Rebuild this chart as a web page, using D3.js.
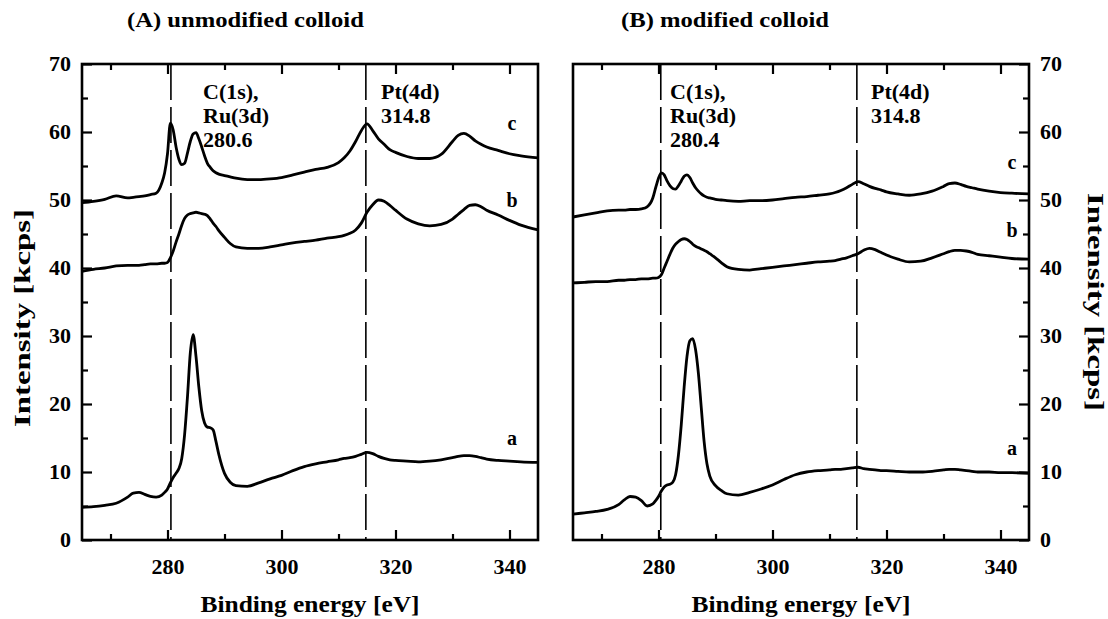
<!DOCTYPE html>
<html>
<head>
<meta charset="utf-8">
<script src="https://cdn.jsdelivr.net/npm/d3@7"></script>
<style>
  body { margin: 0; background: #fff; }
  text { font-family: "Liberation Serif", "Times New Roman", serif; font-weight: bold; fill: #000; }
</style>
</head>
<body>
<script>
//binding energy grid shared by every spectrum (eV)
var energy = [265,267,269,271,273,274,275,276,277,278,279,279.5,280,280.5,281,281.5,282,282.5,283,283.5,284,284.5,285,285.5,286,286.5,287,287.5,288,288.5,289,290,291,292,294,296,298,300,302,304,306,308,310,311,312,313,314,315,316,317,318,319,320,322,324,326,328,330,331,332,333,334,335,336,338,340,342,345];

//(A) unmodified colloid, intensity in kcps
var unmodA = [4.8,4.9,5.1,5.4,6.3,6.9,7.0,6.7,6.4,6.3,6.6,7.0,7.5,8.4,9.2,9.8,10.5,12.0,15.5,21,27.5,30.2,27,22.5,19,17.2,16.6,16.5,16.2,14.5,12.6,9.8,8.5,8.0,7.9,8.4,9.0,9.5,10.2,10.8,11.2,11.5,11.8,12.0,12.1,12.3,12.6,12.9,12.7,12.3,12.0,11.8,11.7,11.6,11.5,11.6,11.8,12.1,12.3,12.4,12.4,12.3,12.1,11.9,11.7,11.6,11.5,11.4];
var unmodB = [39.5,39.8,40.0,40.3,40.4,40.4,40.4,40.5,40.6,40.6,40.7,40.7,40.8,41.5,42.5,43.8,45.0,46.3,47.3,47.8,48.0,48.1,48.2,48.1,48.0,47.9,47.7,47.2,46.6,46.1,45.5,44.5,43.6,43.1,42.9,42.9,43.1,43.4,43.7,43.9,44.1,44.4,44.6,44.8,45.1,45.6,46.6,48.2,49.3,50.0,49.8,49.2,48.5,47.2,46.5,46.2,46.4,47.2,47.9,48.6,49.2,49.3,49.0,48.5,47.8,47.0,46.3,45.6];
var unmodC = [49.6,49.8,50.1,50.6,50.3,50.4,50.5,50.6,50.8,51.0,52.5,54.0,56.8,61.3,60.3,57.8,56.0,55.2,55.4,56.9,58.6,59.7,59.9,59.0,57.8,56.5,55.4,54.8,54.3,54.0,53.8,53.6,53.4,53.2,53.0,53.0,53.1,53.3,53.7,54.1,54.5,54.8,55.5,56.2,57.2,58.6,60.2,61.2,60.2,59.0,58.2,57.4,57.0,56.4,56.1,56.1,56.7,58.6,59.5,59.8,59.4,58.7,58.2,57.8,57.3,56.8,56.5,56.2];

//(B) modified colloid, intensity in kcps
var modA = [3.8,4.0,4.2,4.5,5.2,5.9,6.4,6.3,5.8,5.0,5.3,5.8,6.4,7.2,7.8,8.1,8.2,8.5,9.6,12.5,17.0,22.5,27.0,29.3,29.6,28.0,24.5,19.5,14.5,11.2,9.4,8.0,7.3,6.8,6.6,7.0,7.5,8.1,8.9,9.6,10.0,10.2,10.3,10.4,10.4,10.5,10.6,10.7,10.5,10.4,10.3,10.2,10.2,10.1,10.0,10.0,10.1,10.3,10.4,10.4,10.3,10.2,10.1,10.0,10.0,9.9,9.9,9.8];
var modB = [37.8,37.9,38.0,38.0,38.2,38.2,38.3,38.3,38.4,38.4,38.5,38.5,38.6,39.0,40.0,41.0,42.0,42.9,43.5,43.9,44.2,44.3,44.2,43.9,43.5,43.2,43.0,42.8,42.6,42.4,42.1,41.5,40.8,40.2,39.8,39.7,39.9,40.1,40.3,40.5,40.7,40.9,41.0,41.1,41.3,41.5,41.8,42.1,42.6,42.9,42.7,42.3,41.9,41.3,40.9,41.0,41.5,42.1,42.4,42.6,42.6,42.5,42.3,42.0,41.8,41.6,41.4,41.3];
var modC = [47.5,47.8,48.1,48.4,48.5,48.5,48.6,48.6,48.7,49.0,50.3,51.8,53.2,54.0,53.7,52.8,52.1,51.7,51.6,52.1,52.8,53.5,53.7,53.3,52.5,51.8,51.3,50.9,50.6,50.4,50.3,50.1,50.0,49.9,49.8,49.9,49.9,50.0,50.2,50.4,50.5,50.7,50.9,51.1,51.4,51.8,52.3,52.7,52.4,52.0,51.7,51.5,51.2,50.9,50.7,50.9,51.3,52.0,52.4,52.5,52.3,52.0,51.8,51.6,51.3,51.1,51.0,50.9];

//ticks and reference lines
var xMajorTicks = [280, 300, 320, 340];
var xMinorTicks = [270, 290, 310, 330];
var yMajorTicks = [0, 10, 20, 30, 40, 50, 60, 70];
var yMinorTicks = [5, 15, 25, 35, 45, 55, 65];
var peakLinesA = [280.6, 314.8];
var peakLinesB = [280.4, 314.8];

var svg = d3.select("body").append("svg")
            .attr("width", 1108)
            .attr("height", 619);

var plotTop = 64, plotBottom = 540;

var y = d3.scaleLinear().domain([0, 70]).range([plotBottom, plotTop]);

//the scanned figure has slightly wide lettering, widen the text a bit
function widen(sel, factor) {
  sel.each(function () {
    var w = this.getComputedTextLength();
    d3.select(this).attr("textLength", w * factor).attr("lengthAdjust", "spacingAndGlyphs");
  });
}

function drawPanel(opts) {
  var x = d3.scaleLinear().domain([265, 345]).range([opts.left, opts.right]);
  var g = svg.append("g");

  //dashed peak markers
  g.selectAll("line.peak").data(opts.peaks).enter().append("line")
    .attr("class", "peak")
    .attr("x1", function (d) { return x(d); })
    .attr("x2", function (d) { return x(d); })
    .attr("y1", plotTop)
    .attr("y2", plotBottom)
    .attr("stroke", "#000")
    .attr("stroke-width", 1.6)
    .attr("stroke-dasharray", "36,7");

  //spectra
  var line = d3.line()
               .x(function (d, i) { return x(energy[i]); })
               .y(function (d) { return y(d); })
               .curve(d3.curveMonotoneX);
  g.selectAll("path.spec").data(opts.series).enter().append("path")
    .attr("class", "spec")
    .attr("d", line)
    .attr("fill", "none")
    .attr("stroke", "#000")
    .attr("stroke-width", 2.8)
    .attr("stroke-linejoin", "round");

  //x axes (bottom with labels, top mirrored), ticks pointing inward
  g.append("g").attr("transform", "translate(0," + plotBottom + ")")
    .call(d3.axisBottom(x).tickValues(xMajorTicks).tickSize(-10).tickPadding(20));
  g.append("g").attr("transform", "translate(0," + plotBottom + ")")
    .call(d3.axisBottom(x).tickValues(xMinorTicks).tickSize(-6).tickFormat(""));
  g.append("g").attr("transform", "translate(0," + plotTop + ")")
    .call(d3.axisTop(x).tickValues(xMajorTicks).tickSize(-10).tickFormat(""));
  g.append("g").attr("transform", "translate(0," + plotTop + ")")
    .call(d3.axisTop(x).tickValues(xMinorTicks).tickSize(-6).tickFormat(""));

  //y axis on the outer side
  var yAxis = opts.yRight ? d3.axisRight(y) : d3.axisLeft(y);
  var yMinor = opts.yRight ? d3.axisRight(y) : d3.axisLeft(y);
  var ax = opts.yRight ? opts.right : opts.left;
  g.append("g").attr("transform", "translate(" + ax + ",0)")
    .call(yAxis.tickValues(yMajorTicks).tickSize(-10).tickPadding(11));
  g.append("g").attr("transform", "translate(" + ax + ",0)")
    .call(yMinor.tickValues(yMinorTicks).tickSize(-6).tickFormat(""));

  g.selectAll(".domain").remove();
  g.selectAll(".tick line").attr("stroke", "#000").attr("stroke-width", 2.2);
  var tickText = g.selectAll(".tick text").style("font-size", "20px")
                  .style("font-family", "Liberation Serif, serif").style("font-weight", "bold");
  widen(tickText, 1.1);

  //frame
  g.append("rect")
    .attr("x", opts.left).attr("y", plotTop)
    .attr("width", opts.right - opts.left).attr("height", plotBottom - plotTop)
    .attr("fill", "none").attr("stroke", "#000").attr("stroke-width", 2.6);

  //peak annotations
  ["C(1s),", "Ru(3d)", opts.cValue].forEach(function (t, i) {
    g.append("text").attr("x", opts.cLabelX).attr("y", 99 + i * 24).style("font-size", "22px").text(t);
  });
  ["Pt(4d)", "314.8"].forEach(function (t, i) {
    g.append("text").attr("x", opts.ptLabelX).attr("y", 99 + i * 24).style("font-size", "22px").text(t);
  });

  //curve letters
  g.selectAll("text.letter").data(opts.letters).enter().append("text")
    .attr("class", "letter")
    .attr("x", opts.letterX)
    .attr("y", function (d) { return y(d.v); })
    .attr("text-anchor", "middle")
    .style("font-size", "20px")
    .text(function (d) { return d.t; });

  //titles
  var t = g.append("text").attr("x", opts.titleX).attr("y", 27).style("font-size", "22px").text(opts.title);
  widen(t, 1.12);
  var xt = g.append("text").attr("x", (opts.left + opts.right) / 2).attr("y", 612)
            .attr("text-anchor", "middle").style("font-size", "24px").text("Binding energy [eV]");
  widen(xt, 1.06);
}

drawPanel({
  left: 82, right: 538, yRight: false,
  series: [unmodA, unmodB, unmodC],
  peaks: peakLinesA,
  cLabelX: 203, cValue: "280.6", ptLabelX: 381,
  letterX: 512,
  letters: [{ t: "c", v: 60.3 }, { t: "b", v: 49 }, { t: "a", v: 14 }],
  titleX: 127, title: "(A) unmodified colloid"
});

drawPanel({
  left: 573, right: 1029, yRight: true,
  series: [modA, modB, modC],
  peaks: peakLinesB,
  cLabelX: 670, cValue: "280.4", ptLabelX: 871,
  letterX: 1012,
  letters: [{ t: "c", v: 54.5 }, { t: "b", v: 44.5 }, { t: "a", v: 12.5 }],
  titleX: 621, title: "(B) modified colloid"
});

//y axis titles, long and narrow in the original scan
svg.append("text")
   .attr("transform", "translate(30,318) rotate(-90)")
   .attr("text-anchor", "middle").style("font-size", "23px")
   .attr("textLength", 218).attr("lengthAdjust", "spacingAndGlyphs")
   .text("Intensity [kcps]");
svg.append("text")
   .attr("transform", "translate(1088,302) rotate(90)")
   .attr("text-anchor", "middle").style("font-size", "23px")
   .attr("textLength", 218).attr("lengthAdjust", "spacingAndGlyphs")
   .text("Intensity [kcps]");
</script>
</body>
</html>
